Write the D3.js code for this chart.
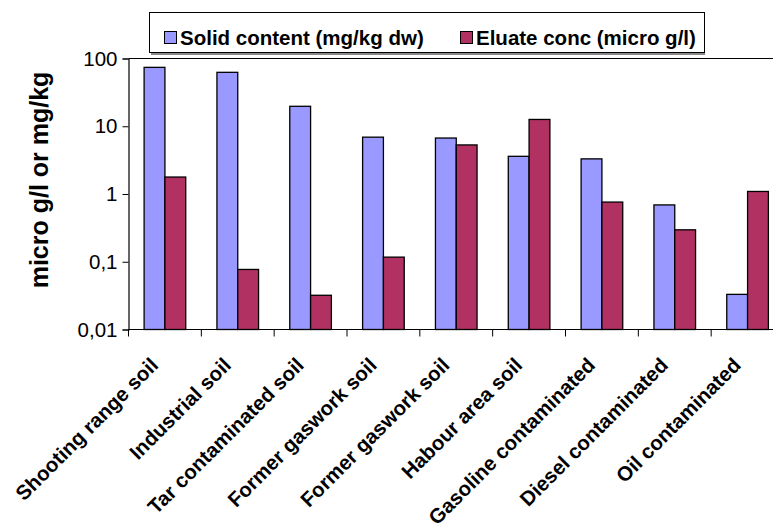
<!DOCTYPE html>
<html>
<head>
<meta charset="utf-8">
<script src="https://cdn.jsdelivr.net/npm/d3@7"></script>
<style>
  html, body { margin: 0; padding: 0; background: #fff; }
  svg { display: block; overflow: hidden; }
  text { font-family: "Liberation Sans", Arial, sans-serif; }
</style>
</head>
<body>
<svg id="chart" width="773" height="524"></svg>
<script>
const categories = ["Shooting range soil", "Industrial soil", "Tar contaminated soil", "Former gaswork soil",
  "Former gaswork soil", "Habour area soil", "Gasoline contaminated", "Diesel contaminated", "Oil contaminated"];
const seriesNames = ["Solid content (mg/kg dw)", "Eluate conc (micro g/l)"];
const solidContent = [74, 62.5, 19.7, 6.9, 6.7, 3.6, 3.3, 0.69, 0.033];
const eluateConc = [1.78, 0.077, 0.032, 0.117, 5.3, 12.6, 0.76, 0.296, 1.09];
const yTicks = [0.01, 0.1, 1, 10, 100];
const yTickLabels = ["0,01", "0,1", "1", "10", "100"];
const colors = ["#9999FF", "#B13163"];

const svg = d3.select("#chart");
const pLeft = 128.5, pRight = 784, pTop = 58.5, pBottom = 329.5;

const x0 = d3.scaleBand().domain(d3.range(categories.length)).range([pLeft, pRight]).paddingInner(0).paddingOuter(0);
const groupW = x0.bandwidth() * 2 / 3.5;
const x1 = d3.scaleBand().domain([0, 1]).range([0, groupW]);
const y = d3.scaleLog().domain([0.01, 100]).range([pBottom, pTop]);

// plot top border
svg.append("line").attr("x1", pLeft).attr("x2", 773).attr("y1", pTop).attr("y2", pTop)
  .attr("stroke", "#000").attr("stroke-width", 1);

// bars
const data = categories.map((c, i) => ({ i, vals: [solidContent[i], eluateConc[i]] }));
const groups = svg.append("g").selectAll("g").data(data).join("g")
  .attr("transform", d => `translate(${x0(d.i) + (x0.bandwidth() - groupW) / 2},0)`);
groups.selectAll("rect").data(d => d.vals.map((v, k) => ({ v, k }))).join("rect")
  .attr("x", d => x1(d.k))
  .attr("width", x1.bandwidth())
  .attr("y", d => y(d.v))
  .attr("height", d => pBottom - y(d.v))
  .attr("fill", d => colors[d.k])
  .attr("stroke", "#000")
  .attr("stroke-width", 1.3);

// y axis
const yAxis = d3.axisLeft(y).tickValues(yTicks).tickFormat((d, i) => yTickLabels[i]).tickSize(6).tickPadding(5);
const yg = svg.append("g").attr("transform", `translate(${pLeft},0)`).call(yAxis);
yg.select(".domain").attr("stroke", "#000").attr("stroke-width", 1.2);
yg.selectAll(".tick line").attr("stroke", "#000");
yg.selectAll(".tick text").attr("font-size", 20.5).attr("fill", "#000")
  .style("font-family", "'Liberation Sans', Arial, sans-serif");

// x axis: line and ticks at band boundaries
svg.append("line").attr("x1", pLeft).attr("x2", 773).attr("y1", pBottom).attr("y2", pBottom)
  .attr("stroke", "#000").attr("stroke-width", 1.2);
svg.append("g").selectAll("line").data(d3.range(categories.length + 1)).join("line")
  .attr("x1", i => pLeft + i * x0.bandwidth()).attr("x2", i => pLeft + i * x0.bandwidth())
  .attr("y1", pBottom).attr("y2", pBottom + 7).attr("stroke", "#000");

// x labels
svg.append("g").selectAll("text").data(categories).join("text")
  .attr("transform", (d, i) => `translate(${x0(i) + x0.bandwidth() / 2 - 5.5},${pBottom + 37}) rotate(-45)`)
  .attr("text-anchor", "end")
  .attr("font-size", 20.5).attr("font-weight", "bold").attr("fill", "#000")
  .text(d => d);

// y title
svg.append("text")
  .attr("transform", `translate(48,180) rotate(-90)`)
  .attr("text-anchor", "middle")
  .attr("font-size", 25).attr("font-weight", "bold").attr("fill", "#000")
  .text("micro g/l or mg/kg");

// legend
const lg = svg.append("g");
lg.append("rect").attr("x", 149.5).attr("y", 12.5).attr("width", 555).attr("height", 40)
  .attr("fill", "#fff").attr("stroke", "#000").attr("stroke-width", 1);
lg.append("line").attr("x1", 151).attr("x2", 705).attr("y1", 54).attr("y2", 54)
  .attr("stroke", "#888").attr("stroke-width", 2);
const legX = [164, 460];
seriesNames.forEach((s, k) => {
  lg.append("rect").attr("x", legX[k] + 0.5).attr("y", 31.5).attr("width", 12).attr("height", 12)
    .attr("fill", colors[k]).attr("stroke", "#000").attr("stroke-width", 1);
  lg.append("text").attr("x", legX[k] + 16).attr("y", 45)
    .attr("font-size", 20.5).attr("font-weight", "bold").attr("fill", "#000").text(s);
});
</script>
</body>
</html>
